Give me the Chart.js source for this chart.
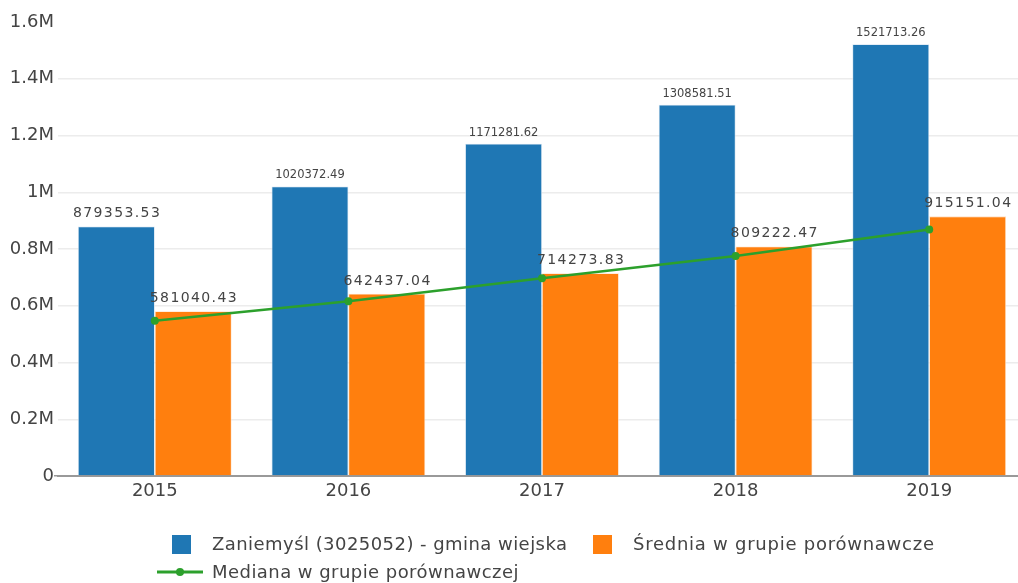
<!DOCTYPE html>
<html>
<head>
<meta charset="utf-8">
<script src="https://cdn.jsdelivr.net/npm/chart.js@4"></script>
<style>
  html, body { margin: 0; padding: 0; background: #fff; overflow: hidden; }
  #wrap { position: relative; width: 1030px; height: 583px; }
  #legend { position: absolute; left: 0; top: 0; font-family: "DejaVu Sans", Verdana, sans-serif; font-size: 18px; letter-spacing: 0.45px; color: #444; }
  .item { position: absolute; white-space: nowrap; line-height: 22px; }
  .box { position: absolute; width: 19px; height: 19px; }
  .clip { display: inline-block; overflow: hidden; vertical-align: top; letter-spacing: 0.75px; }
</style>
</head>
<body>
<div id="wrap">
  <canvas id="chart" width="1030" height="583"></canvas>
  <div id="legend">
    <div class="box" style="left:172px;top:535px;background:#1f77b4"></div>
    <div class="item" id="lgA" style="left:212px;top:533px"></div>
    <div class="box" style="left:593px;top:535px;background:#ff7f0e"></div>
    <div class="item" style="left:633px;top:533px"><span class="clip" id="lgB" style="width:301px"></span></div>
    <svg style="position:absolute;left:157px;top:566px" width="48" height="12">
      <line x1="0" y1="6" x2="46" y2="6" stroke="#2ca02c" stroke-width="3"/>
      <circle cx="23" cy="6" r="4" fill="#2ca02c"/>
    </svg>
    <div class="item" id="lgC" style="left:212px;top:561px"></div>
  </div>
</div>
<script>
const years = ["2015", "2016", "2017", "2018", "2019"];
const gminaName = "Zaniemyśl (3025052) - gmina wiejska";
const sredniaName = "Średnia w grupie porównawczej";
const medianaName = "Mediana w grupie porównawczej";
const gmina = [879353.53, 1020372.49, 1171281.62, 1308581.51, 1521713.26];
const srednia = [581040.43, 642437.04, 714273.83, 809222.47, 915151.04];
const mediana = [547000, 616000, 697000, 775000, 869000];
const yTicks = [0, 200000, 400000, 600000, 800000, 1000000, 1200000, 1400000, 1600000];

document.getElementById("lgA").textContent = gminaName;
document.getElementById("lgB").textContent = sredniaName;
document.getElementById("lgC").textContent = medianaName;

const font = '"DejaVu Sans", Verdana, sans-serif';
const textColor = "#444";

function fmtTick(v) {
  if (v === 0) return "0";
  return (v / 1000000).toString() + "M";
}

// value labels above bars
const barLabels = {
  id: "barLabels",
  afterDatasetsDraw(chart) {
    const ctx = chart.ctx;
    ctx.save();
    ctx.fillStyle = textColor;
    ctx.textAlign = "center";
    ctx.textBaseline = "alphabetic";
    chart.data.datasets.forEach((ds, i) => {
      if (ds.type !== "bar") return;
      const meta = chart.getDatasetMeta(i);
      meta.data.forEach((bar, j) => {
        const txt = ds.data[j].toFixed(2);
        if (txt.length > 9) {
          ctx.font = "11.5px " + font;
          ctx.letterSpacing = "0px";
          ctx.fillText(txt, bar.x, bar.y - 8);
        } else {
          ctx.font = "14px " + font;
          ctx.letterSpacing = "1.4px";
          ctx.fillText(txt, bar.x + 0.7, bar.y - 9);
        }
      });
    });
    ctx.restore();
  },
};

new Chart(document.getElementById("chart"), {
  data: {
    labels: years,
    datasets: [
      {
        type: "line",
        label: medianaName,
        data: mediana,
        borderColor: "#2ca02c",
        backgroundColor: "#2ca02c",
        borderWidth: 2.5,
        pointRadius: 4,
        pointBorderWidth: 0,
        tension: 0,
      },
      {
        type: "bar",
        label: gminaName,
        data: gmina,
        backgroundColor: "#1f77b4",
        borderColor: "#cfe0ef",
        borderWidth: 0.8,
        barPercentage: 1,
        categoryPercentage: 0.794,
      },
      {
        type: "bar",
        label: sredniaName,
        data: srednia,
        backgroundColor: "#ff7f0e",
        borderColor: "#ffe0c4",
        borderWidth: 0.8,
        barPercentage: 1,
        categoryPercentage: 0.794,
      },
    ],
  },
  options: {
    responsive: false,
    animation: false,
    layout: { padding: { top: 22, right: 2, bottom: 77, left: 0 } },
    plugins: { legend: { display: false }, tooltip: { enabled: false } },
    scales: {
      x: {
        grid: { display: false, drawTicks: false },
        border: { color: "#999", width: 2 },
        ticks: { color: textColor, font: { family: font, size: 18 }, padding: 5 },
        afterFit: (s) => { s.height = 30; },
      },
      y: {
        min: 0,
        max: 1600000,
        afterBuildTicks: (s) => { s.ticks = yTicks.map((v) => ({ value: v })); },
        afterFit: (s) => { s.width = 58; },
        border: { display: false },
        grid: {
          color: (c) => (c.tick.value === 0 || c.tick.value === 1600000 ? "rgba(0,0,0,0)" : "#ececec"),
          lineWidth: 1.5,
          tickLength: 4,
          tickColor: (c) => (c.tick.value === 0 ? "#999" : "rgba(0,0,0,0)"),
        },
        ticks: {
          color: textColor,
          font: { family: font, size: 18 },
          padding: 0,
          callback: (v) => fmtTick(v),
        },
      },
    },
  },
  plugins: [barLabels],
});
</script>
</body>
</html>
